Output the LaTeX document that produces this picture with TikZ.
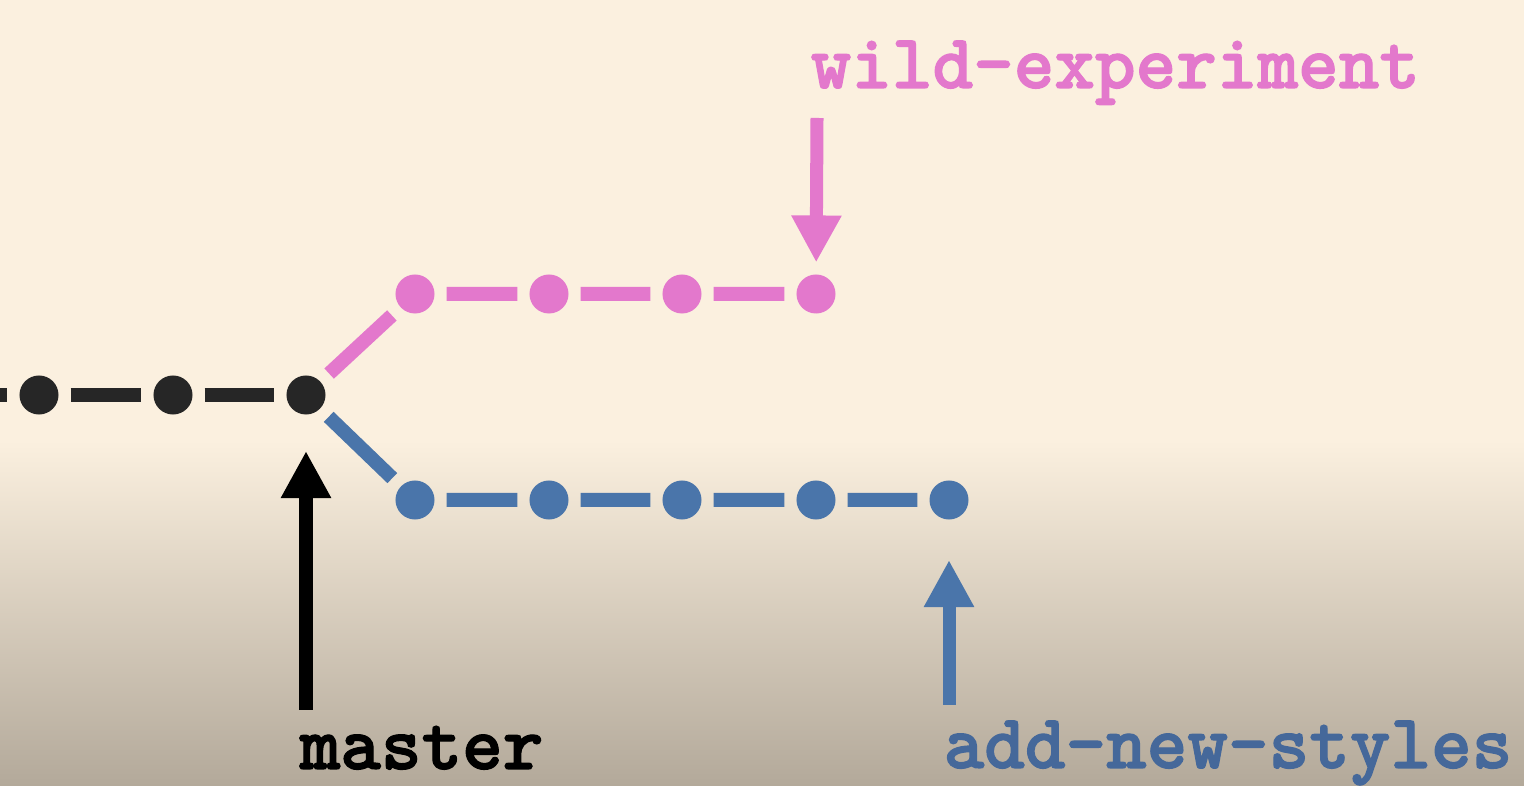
\documentclass[tikz,border=0pt]{standalone}
\usepackage{fontspec}
\newfontfamily\branchfont{lmmonolt10-bold}[Extension=.otf,BoldFont=lmmonolt10-bold,BoldFeatures={FakeBold=1.6}]
\usepackage{xcolor}
\usepackage{tikz}
\usetikzlibrary{arrows.meta}
\definecolor{bgcream}{HTML}{FBF0DF}
\definecolor{bgtan}{HTML}{B3A99A}
\definecolor{gitblack}{HTML}{262626}
\definecolor{gitpink}{HTML}{E378CC}
\definecolor{gitblue}{HTML}{4A75AA}
\definecolor{labelblue}{HTML}{45689A}

\begin{document}
\begin{tikzpicture}[x=0.01cm,y=-0.01cm,
    commit/.style={circle,inner sep=0pt,minimum size=0.39cm,outer sep=0.12cm},
    link/.style={line width=0.14cm},
    pointer/.style={line width=0.13cm,-{Triangle[width=0.47cm,length=0.47cm]}},
    branch/.style={font=\fontsize{22pt}{24pt}\selectfont\branchfont\bfseries,inner sep=0pt,anchor=base west}]
  \clip (0,0) rectangle (1524,786);
  % background
  \fill[bgcream] (0,0) rectangle (1524,786);
  \shade[top color=bgcream,bottom color=bgtan] (0,440) rectangle (1524,786);
  % commits
  \foreach \i/\x in {1/39,2/173,3/306}
    \node[commit,fill=gitblack] (c\i) at (\x,395) {};
  \foreach \i/\x in {1/415,2/549,3/682,4/816}
    \node[commit,fill=gitpink] (p\i) at (\x,294) {};
  \foreach \i/\x in {1/415,2/549,3/682,4/816,5/949}
    \node[commit,fill=gitblue] (b\i) at (\x,500) {};
  \coordinate (c0) at (-60,395);
  % history lines
  \draw[link,gitblack] (c0) -- (c1) -- (c2) -- (c3);
  \draw[link,gitpink] (c3) -- (p1) -- (p2) -- (p3) -- (p4);
  \draw[link,gitblue] (c3) -- (b1) -- (b2) -- (b3) -- (b4) -- (b5);
  % branch labels
  \node[branch,text=gitpink] (wild) at (810,88) {wild-experiment};
  \node[branch,text=black] (master) at (299,769) {master};
  \node[branch,text=labelblue] (styles) at (943,768) {add-new-styles};
  \coordinate (wildtail) at (817,118);
  \coordinate (mastertail) at (306,710);
  \coordinate (stylestail) at (949,705);
  \draw[pointer,gitpink] (wildtail) -- (p4);
  \draw[pointer,black,shorten >=0.245cm] (mastertail) -- (c3);
  \draw[pointer,gitblue,shorten >=0.285cm] (stylestail) -- (b5);
\end{tikzpicture}
\end{document}
